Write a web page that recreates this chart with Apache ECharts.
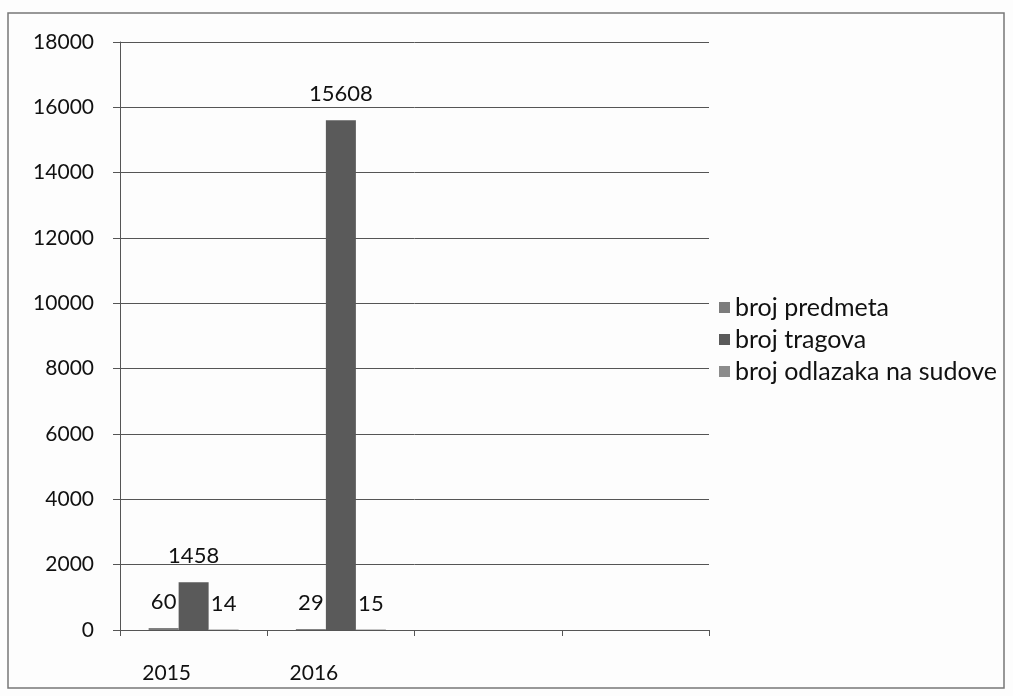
<!DOCTYPE html>
<html>
<head>
<meta charset="utf-8">
<script src="https://cdn.jsdelivr.net/npm/echarts@6/dist/echarts.min.js"></script>
<style>
html,body{margin:0;padding:0;background:#fdfdfd;}
#c{width:1013px;height:696px;}
</style>
</head>
<body>
<div id="c"></div>
<script>
const categories = ['2015', '2016', '', ''];
const seriesNames = ['broj predmeta', 'broj tragova', 'broj odlazaka na sudove'];
const brojPredmeta = [60, 29, null, null];
const brojTragova = [1458, 15608, null, null];
const brojOdlazaka = [14, 15, null, null];
const yTicks = { min: 0, max: 18000, interval: 2000 };

const colors = ['#7c7c7c', '#5a5a5a', '#8c8c8c'];
const font = 'Lato, "Open Sans", sans-serif';
const chart = echarts.init(document.getElementById('c'));
const lbl = {
  show: true, position: 'top', color: '#111', fontSize: 22, fontFamily: font, distance: 15
};
chart.setOption({
  backgroundColor: '#fdfdfd',
  animation: false,
  graphic: [{
    type: 'rect', shape: { x: 8, y: 13, width: 996, height: 675 },
    style: { fill: 'none', stroke: '#777', lineWidth: 1.5 }, silent: true
  }],
  grid: { left: 120, right: 304, top: 42, bottom: 66, containLabel: false },
  legend: {
    orient: 'vertical', left: 714, top: 290, itemGap: 7,
    itemWidth: 11, itemHeight: 11, icon: 'rect',
    textStyle: { fontSize: 25, fontFamily: font, color: '#111' },
    data: seriesNames
  },
  xAxis: {
    type: 'category', data: categories,
    axisLine: { lineStyle: { color: '#555', width: 1 } },
    axisTick: { show: true, length: 6, lineStyle: { color: '#555' } },
    axisLabel: { fontSize: 21, fontFamily: font, color: '#111', margin: 33, padding: [0, 54, 0, 0] }
  },
  yAxis: {
    type: 'value', min: yTicks.min, max: yTicks.max, interval: yTicks.interval,
    axisLine: { show: true, lineStyle: { color: '#555', width: 1 } },
    axisTick: { show: true, length: 7, lineStyle: { color: '#555' } },
    splitLine: { lineStyle: { color: '#555', width: 1 } },
    axisLabel: { fontSize: 21, fontFamily: font, color: '#111', margin: 26, formatter: v => String(v) }
  },
  series: [
    { name: seriesNames[0], type: 'bar', data: brojPredmeta, barWidth: 30, barGap: '0%', itemStyle: { color: colors[0] }, label: lbl },
    { name: seriesNames[1], type: 'bar', data: brojTragova, barWidth: 30, barGap: '0%', itemStyle: { color: colors[1] }, label: lbl },
    { name: seriesNames[2], type: 'bar', data: brojOdlazaka, barWidth: 30, barGap: '0%', itemStyle: { color: colors[2] }, label: lbl }
  ]
});
</script>
</body>
</html>
